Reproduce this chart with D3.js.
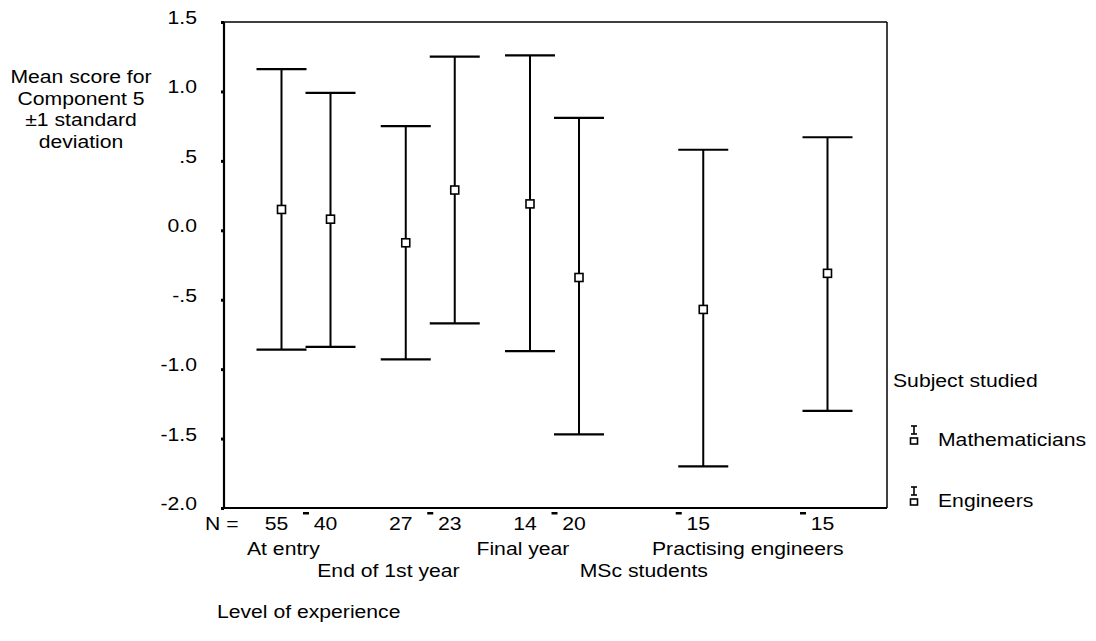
<!DOCTYPE html>
<html><head><meta charset="utf-8">
<script src="https://cdn.jsdelivr.net/npm/d3@7"></script>
<style>
body{margin:0;background:#fff}
text{font-family:"Liberation Sans",Arial,sans-serif;fill:#000}
</style>
</head><body>
<svg id="c" width="1096" height="641"></svg>
<script>
// ---- data ----
const categories = ["At entry","End of 1st year","Final year","MSc students","Practising engineers"];
const groups = ["Mathematicians","Engineers"];
const mathMean  = [0.15, -0.09, 0.19, null, null];
const mathUpper = [1.16, 0.75, 1.26, null, null];
const mathLower = [-0.86, -0.93, -0.87, null, null];
const engMean   = [0.08, 0.29, -0.34, -0.57, -0.31];
const engUpper  = [0.99, 1.25, 0.81, 0.58, 0.67];
const engLower  = [-0.84, -0.67, -1.47, -1.70, -1.30];
const mathN = ["55","27","14","",""];
const engN  = ["40","23","20","15","15"];
const yTicks = [1.5, 1.0, 0.5, 0.0, -0.5, -1.0, -1.5, -2.0];
const yTickLabels = ["1.5","1.0",".5","0.0","-.5","-1.0","-1.5","-2.0"];
const yTitle = ["Mean score for","Component 5","\u00B11 standard","deviation"];
const xTitle = "Level of experience";
const legendTitle = "Subject studied";

// ---- layout ----
const svg = d3.select("#c");
const L = 224, R = 887, T = 22, B = 508;
const FS = 17.5, SX = 1.21;
const y = d3.scaleLinear().domain([-2, 1.5]).range([B, T]);
const x = d3.scalePoint().domain(categories).range([306, 803]);
const off = d3.scaleOrdinal().domain(groups).range([-24.5, 24.5]);

function txt(xp, yp, s, anchor) {
  const g = svg.append("g").attr("transform", `translate(${xp},${yp}) scale(${SX},1)`);
  g.append("text").attr("text-anchor", anchor || "start").attr("font-size", FS).text(s);
  return g;
}

// frame
svg.append("line").attr("x1", L).attr("x2", R).attr("y1", T).attr("y2", T).attr("stroke","#000").attr("stroke-width",1.5);
svg.append("line").attr("x1", R).attr("x2", R).attr("y1", T).attr("y2", B).attr("stroke","#000").attr("stroke-width",1.5);

// y axis
const yAxis = d3.axisLeft(y).tickValues(yTicks).tickSize(3).tickFormat(() => "");
const ga = svg.append("g").attr("transform", `translate(${L},0)`).call(yAxis);
ga.select(".domain").attr("stroke-width", 2.2).attr("d", `M0,${T}V${B}`);
ga.selectAll(".tick line").attr("stroke-width", 3);
yTicks.forEach((v, i) => txt(197, y(v) + 2, yTickLabels[i], "end"));

// x axis
svg.append("line").attr("x1", L - 1).attr("x2", R).attr("y1", B).attr("y2", B).attr("stroke","#000").attr("stroke-width",2);
categories.forEach(c => {
  svg.append("rect").attr("x", x(c) - 3).attr("y", B + 4).attr("width", 6).attr("height", 2.5).attr("fill","#000");
});

// error bars
const series = [
  {g: "Mathematicians", mean: mathMean, up: mathUpper, lo: mathLower, n: mathN},
  {g: "Engineers", mean: engMean, up: engUpper, lo: engLower, n: engN}
];
const capW = 50, sq = 8;
series.forEach(s => {
  categories.forEach((c, i) => {
    if (s.mean[i] == null) return;
    const cx = x(c) + off(s.g);
    const gg = svg.append("g").attr("stroke","#000").attr("fill","none");
    gg.append("line").attr("x1", cx).attr("x2", cx).attr("y1", y(s.up[i])).attr("y2", y(s.lo[i])).attr("stroke-width", 2);
    gg.append("line").attr("x1", cx - capW/2).attr("x2", cx + capW/2).attr("y1", y(s.up[i])).attr("y2", y(s.up[i])).attr("stroke-width", 2.2);
    gg.append("line").attr("x1", cx - capW/2).attr("x2", cx + capW/2).attr("y1", y(s.lo[i])).attr("y2", y(s.lo[i])).attr("stroke-width", 2.2);
    gg.append("rect").attr("x", cx - sq/2).attr("y", y(s.mean[i]) - sq/2).attr("width", sq).attr("height", sq)
      .attr("fill","#fff").attr("stroke-width", 1.6);
  });
});

// N labels
txt(205, 530, "N =", "start");
series.forEach(s => {
  categories.forEach((c, i) => {
    if (!s.n[i]) return;
    txt(x(c) + off(s.g) - 5, 530, s.n[i], "middle");
  });
});

// category labels (staggered rows like the original)
const labelDx = [-59, -113, -78, -99, -151];
const labelRow = [0, 1, 0, 1, 0];
categories.forEach((c, i) => txt(x(c) + labelDx[i], 555 + labelRow[i] * 22, c, "start"));

// axis titles
yTitle.forEach((t, i) => txt(81, 83 + i * 21.5, t, "middle"));
txt(217, 618, xTitle, "start");

// legend
txt(893, 387, legendTitle, "start");
const legY = [426, 487];
groups.forEach((g, i) => {
  const cx = 914, top = legY[i];
  const lg = svg.append("g").attr("stroke","#000").attr("fill","none").attr("stroke-width",1.6);
  lg.append("line").attr("x1", cx - 3).attr("x2", cx + 3).attr("y1", top).attr("y2", top);
  lg.append("line").attr("x1", cx).attr("x2", cx).attr("y1", top).attr("y2", top + 8);
  lg.append("line").attr("x1", cx - 3).attr("x2", cx + 3).attr("y1", top + 8).attr("y2", top + 8);
  lg.append("rect").attr("x", cx - 3.5).attr("y", top + 12).attr("width", 7).attr("height", 6);
  txt(938, top + 20, g, "start");
});
</script>
</body></html>
